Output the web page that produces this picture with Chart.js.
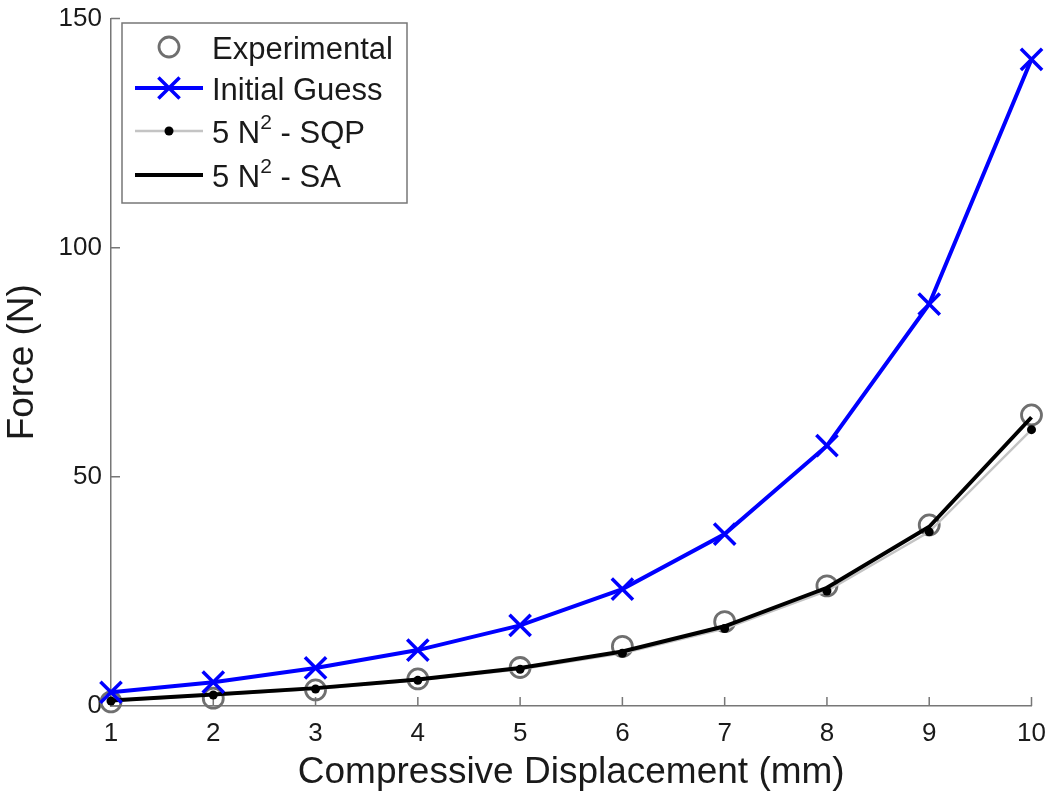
<!DOCTYPE html>
<html>
<head>
<meta charset="utf-8">
<script src="https://cdn.jsdelivr.net/npm/chart.js@4/dist/chart.umd.min.js"></script>
<style>
html,body{margin:0;padding:0;background:#fff;}
canvas{display:block;}
</style>
</head>
<body>
<canvas id="c" width="1050" height="801"></canvas>
<script>
// ---- data ----
const displacement = [1, 2, 3, 4, 5, 6, 7, 8, 9, 10];
const experimental = [0.9, 1.7, 3.5, 5.9, 8.4, 13.0, 18.4, 26.2, 39.5, 63.5];
const initialGuess = [3.0, 5.2, 8.3, 12.2, 17.6, 25.5, 37.5, 56.8, 87.7, 141.1];
const sqp5 = [1.1, 2.4, 3.7, 5.6, 8.0, 11.5, 16.9, 25.1, 38.0, 60.3];
const sa5 = [1.2, 2.5, 3.9, 5.8, 8.3, 11.9, 17.4, 25.8, 39.1, 63.0];
const seriesNames = ['Experimental', 'Initial Guess', '5 N\u00b2 - SQP', '5 N\u00b2 - SA'];
const yTicks = [0, 50, 100, 150];
const xTitle = 'Compressive Displacement (mm)';
const yTitle = 'Force (N)';

const FONT = '"Liberation Sans", Arial, Helvetica, sans-serif';
const toXY = arr => displacement.map((x, i) => ({x: x, y: arr[i]}));

const styles = [
  {borderColor: 'rgba(0,0,0,0)', pointStyle: 'circle', pointRadius: 10, pointBorderColor: '#6f6f6f', pointBackgroundColor: 'rgba(0,0,0,0)', pointBorderWidth: 2.8, showLine: false, order: 4},
  {borderColor: '#0000ff', borderWidth: 4, pointStyle: 'crossRot', pointRadius: 15, pointBorderColor: '#0000ff', pointBorderWidth: 3.5, order: 1},
  {borderColor: '#c4c4c4', borderWidth: 2.5, pointStyle: 'circle', pointRadius: 4.5, pointBorderColor: '#000', pointBackgroundColor: '#000', pointBorderWidth: 0, order: 3},
  {borderColor: '#000000', borderWidth: 4, pointRadius: 0, order: 2}
];
const seriesData = [experimental, initialGuess, sqp5, sa5];

const datasets = seriesNames.map((name, i) => Object.assign({
  label: name,
  data: toXY(seriesData[i]),
  tension: 0,
  fill: false,
  clip: false
}, styles[i]));

// inward tick marks
const inwardTicks = {
  id: 'inwardTicks',
  beforeDatasetsDraw(chart) {
    const {ctx, chartArea, scales} = chart;
    ctx.save();
    ctx.strokeStyle = '#777';
    ctx.lineWidth = 1.5;
    ctx.beginPath();
    displacement.forEach(v => {
      const px = scales.x.getPixelForValue(v);
      ctx.moveTo(px, chartArea.bottom);
      ctx.lineTo(px, chartArea.bottom - 9);
    });
    yTicks.forEach(v => {
      const py = scales.y.getPixelForValue(v);
      ctx.moveTo(chartArea.left, py);
      ctx.lineTo(chartArea.left + 9, py);
    });
    ctx.stroke();
    ctx.restore();
  }
};

// boxed legend with superscripts
const boxLegend = {
  id: 'boxLegend',
  afterDraw(chart) {
    const ctx = chart.ctx;
    const bx = 122, by = 23, bw = 285, bh = 180;
    ctx.save();
    ctx.fillStyle = '#fff';
    ctx.fillRect(bx, by, bw, bh);
    ctx.strokeStyle = '#777';
    ctx.lineWidth = 1.5;
    ctx.strokeRect(bx, by, bw, bh);
    const rows = [47, 88, 131, 175];
    const x0 = 135, x1 = 203, xm = 169, tx = 212;
    rows.forEach((ry, i) => {
      const s = styles[i];
      if (i !== 0) {
        ctx.beginPath();
        ctx.strokeStyle = s.borderColor;
        ctx.lineWidth = s.borderWidth;
        ctx.moveTo(x0, ry); ctx.lineTo(x1, ry);
        ctx.stroke();
      }
      if (s.pointRadius > 0) {
        ctx.lineWidth = s.pointBorderWidth;
        ctx.strokeStyle = s.pointBorderColor;
        ctx.fillStyle = s.pointBackgroundColor || 'rgba(0,0,0,0)';
        ctx.beginPath();
        if (s.pointStyle === 'circle') {
          ctx.arc(xm, ry, s.pointRadius, 0, Math.PI * 2);
          ctx.fill();
          if (s.pointBorderWidth > 0) ctx.stroke();
        } else {
          const r = s.pointRadius * Math.SQRT1_2;
          ctx.moveTo(xm - r, ry - r); ctx.lineTo(xm + r, ry + r);
          ctx.moveTo(xm + r, ry - r); ctx.lineTo(xm - r, ry + r);
          ctx.stroke();
        }
      }
      // text with superscript
      ctx.fillStyle = '#1a1a1a';
      ctx.textBaseline = 'middle';
      ctx.textAlign = 'left';
      const ty = ry + 3;
      const parts = seriesNames[i].split('\u00b2');
      let cx = tx;
      parts.forEach((p, k) => {
        ctx.font = '31px ' + FONT;
        ctx.fillText(p, cx, ty);
        cx += ctx.measureText(p).width;
        if (k < parts.length - 1) {
          ctx.font = '21px ' + FONT;
          ctx.fillText('2', cx, ty - 11);
          cx += ctx.measureText('2').width;
        }
      });
    });
    ctx.restore();
  }
};

new Chart(document.getElementById('c'), {
  type: 'line',
  data: {datasets: datasets},
  plugins: [inwardTicks, boxLegend],
  options: {
    responsive: false,
    animation: false,
    devicePixelRatio: 1,
    layout: {padding: {top: 12, right: 17, left: 0, bottom: 0}},
    plugins: {legend: {display: false}, tooltip: {enabled: false}},
    scales: {
      x: {
        type: 'linear', min: 1, max: 10,
        grid: {display: false, drawTicks: false},
        border: {display: true, color: '#777', width: 1.5},
        ticks: {stepSize: 1, padding: 12, color: '#1a1a1a', font: {family: FONT, size: 26}},
        title: {display: true, text: xTitle, color: '#1a1a1a', font: {family: FONT, size: 37, lineHeight: 1.2}, padding: {top: 0, bottom: 6}},
        afterFit: s => { s.height = 95; s.paddingLeft = 0; s.paddingRight = 0; }
      },
      y: {
        type: 'linear', min: 0, max: 150,
        grid: {display: false, drawTicks: false},
        border: {display: true, color: '#777', width: 1.5},
        ticks: {stepSize: 50, padding: 9, color: '#1a1a1a', font: {family: FONT, size: 26}},
        afterBuildTicks: s => { s.ticks = yTicks.map(v => ({value: v})); },
        title: {display: true, text: yTitle, color: '#1a1a1a', font: {family: FONT, size: 37, lineHeight: 1.2}, padding: {top: 1, bottom: 0}},
        afterFit: s => { s.width = 111; s.paddingTop = 0; s.paddingBottom = 0; }
      }
    }
  }
});
</script>
</body>
</html>
